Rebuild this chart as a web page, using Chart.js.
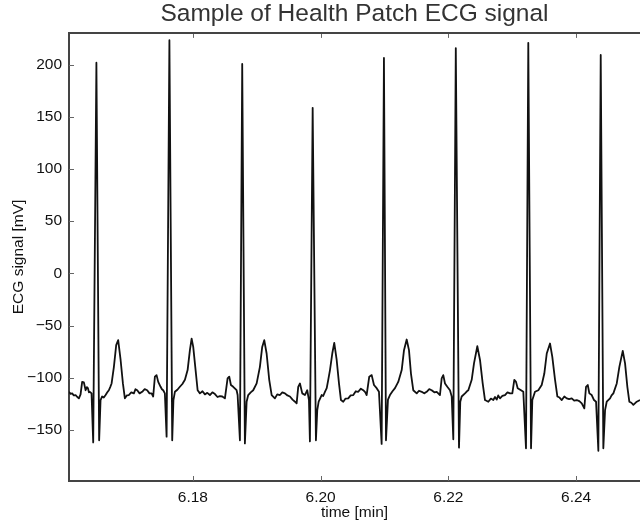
<!DOCTYPE html>
<html>
<head>
<meta charset="utf-8">
<title>Health Patch ECG</title>
<script src="https://cdn.jsdelivr.net/npm/chart.js@4.4.1/dist/chart.umd.min.js"></script>
<style>
  body { margin: 0; background: #fff; }
  #wrap { width: 640px; height: 528px; }
</style>
</head>
<body>
<div id="wrap"><canvas id="ecg-chart"></canvas></div>
<script>
// tick values for both axes
const xTicks = [6.18, 6.20, 6.22, 6.24];
const yTicks = [-150, -100, -50, 0, 50, 100, 150, 200];

// time [min] (one row per beat)
const timeMin = [
  6.16058, 6.16085, 6.16110, 6.16135, 6.16163, 6.16190, 6.16215, 6.16241, 6.16266, 6.16293, 6.16320, 6.16340, 6.16356, 6.16372, 6.16387, 6.16413,
  6.16439, 6.16489, 6.16532, 6.16554, 6.16579, 6.16605, 6.16633, 6.16660, 6.16684, 6.16705, 6.16727, 6.16763, 6.16799, 6.16830, 6.16868, 6.16904, 6.16935, 6.16965, 6.16998, 6.17035, 6.17076, 6.17100, 6.17128, 6.17165, 6.17206, 6.17245, 6.17284, 6.17320, 6.17353, 6.17378, 6.17405, 6.17431, 6.17457, 6.17494, 6.17515, 6.17535, 6.17561,
  6.17588, 6.17632, 6.17676, 6.17695, 6.17718, 6.17757, 6.17796, 6.17835, 6.17875, 6.17917, 6.17953, 6.17980, 6.18005, 6.18042, 6.18074, 6.18110, 6.18150, 6.18188, 6.18225, 6.18266, 6.18305, 6.18345, 6.18385, 6.18423, 6.18460, 6.18501, 6.18543, 6.18569, 6.18595, 6.18631, 6.18660, 6.18684, 6.18700,
  6.18736, 6.18772, 6.18814, 6.18841, 6.18866, 6.18905, 6.18944, 6.18998, 6.19049, 6.19085, 6.19117, 6.19154, 6.19195, 6.19233, 6.19284, 6.19320, 6.19363, 6.19400, 6.19441, 6.19480, 6.19519, 6.19560, 6.19598, 6.19624, 6.19649, 6.19676, 6.19712, 6.19754, 6.19790, 6.19817,
  6.19832, 6.19875, 6.19926, 6.19947, 6.19969, 6.20016, 6.20040, 6.20067, 6.20095, 6.20119, 6.20146, 6.20182, 6.20213, 6.20251, 6.20287, 6.20318, 6.20354, 6.20390, 6.20432, 6.20470, 6.20511, 6.20550, 6.20589, 6.20630, 6.20667, 6.20700, 6.20720, 6.20761, 6.20799, 6.20835, 6.20877, 6.20913,
  6.20955, 6.20991, 6.21023, 6.21054, 6.21085, 6.21125, 6.21164, 6.21215, 6.21269, 6.21305, 6.21347, 6.21383, 6.21414, 6.21450, 6.21504, 6.21540, 6.21582, 6.21620, 6.21660, 6.21700, 6.21738, 6.21780, 6.21817, 6.21868, 6.21895, 6.21920, 6.21947, 6.21983, 6.22025, 6.22052,
  6.22077, 6.22116, 6.22166, 6.22186, 6.22208, 6.22260, 6.22290, 6.22312, 6.22365, 6.22401, 6.22453, 6.22495, 6.22537, 6.22573, 6.22625, 6.22665, 6.22703, 6.22730, 6.22756, 6.22780, 6.22808, 6.22845, 6.22886, 6.22925, 6.22965, 6.23001, 6.23032, 6.23059, 6.23085, 6.23137, 6.23173,
  6.23215, 6.23251, 6.23294, 6.23314, 6.23356, 6.23408, 6.23461, 6.23502, 6.23540, 6.23591, 6.23627, 6.23670, 6.23706, 6.23740, 6.23775, 6.23815, 6.23853, 6.23890, 6.23931, 6.23970, 6.24009, 6.24050, 6.24088, 6.24128, 6.24155, 6.24182, 6.24207, 6.24244, 6.24280, 6.24312,
  6.24348, 6.24385, 6.24426, 6.24453, 6.24479, 6.24531, 6.24555, 6.24583, 6.24636, 6.24677, 6.24730, 6.24766, 6.24802, 6.24833, 6.24865, 6.24896, 6.24949, 6.25001
];

// ECG signal [mV] at those times
const ecgMv = [
  -113.5, -115.5, -115, -117, -116.6, -118.5, -119.8, -116, -104, -104.5, -112, -109, -110, -114, -113.5, -115,
  -162, 202, -160, -121.4, -118, -119, -116.6, -114, -112, -109, -105.5, -89.6, -68.8, -64, -83, -105.5, -119.8, -117, -116.6, -114, -115, -111, -112, -115, -113.5, -111, -112, -115, -115, -118, -99, -97.5, -104, -108.7, -111, -112, -115,
  -156.5, 223.5, -160, -121.4, -113.5, -111.5, -108.7, -106, -102, -92.7, -73.6, -62.5, -70.5, -92.7, -112, -115, -113, -116, -114.5, -116.6, -114, -115.7, -118.5, -117.6, -118, -119.8, -100.7, -99, -107, -108.7, -110.5, -112, -116.6,
  -160, 200.8, -163, -123, -116.6, -114, -112, -105.5, -89.6, -70.5, -64, -76.8, -102, -116.6, -119.8, -116, -116.6, -114, -115, -117, -118, -121, -123, -124.6, -108.7, -105.5, -115, -116.6, -112, -121.4,
  -161, 158.7, -160, -131, -123, -116.6, -117.5, -113.5, -110, -102, -92.7, -76.8, -66.6, -83, -105.5, -121.4, -123, -120, -119.8, -117, -116.6, -113, -113.5, -110.5, -112, -114, -116.6, -99, -97.5, -107, -110, -113.5,
  -163.5, 206.5, -160, -121, -116.6, -113, -110, -104, -92.7, -73.6, -63.4, -73.6, -96, -112, -115, -112.5, -113.5, -115, -113.5, -111, -112, -114, -113.5, -116.6, -100.7, -97.5, -105.5, -108.7, -112, -118,
  -159, 216, -167, -123, -118, -115, -113, -112, -102, -86.3, -69.8, -83, -105.5, -121.4, -123, -120, -121.4, -118.5, -121, -117, -119.8, -117.5, -116.6, -114, -115, -115, -102, -104, -110, -112, -113.5,
  -167.6, 221, -167.6, -121.4, -113.5, -112, -107, -96, -76.8, -67.2, -80, -102, -118, -119, -121.4, -118, -119.8, -120.5, -119.8, -122, -121.4, -122.5, -124.6, -129.4, -108.7, -107, -115, -116.6, -121.4, -123,
  -170, 209.4, -167.6, -131, -123, -119.8, -117, -115, -105.5, -89.6, -74.3, -86.3, -108.7, -123, -124, -126, -123, -121.4
];

const points = timeMin.map((t, i) => ({ x: t, y: ecgMv[i] }));

const axisColor = '#444';
const labelFont = { family: 'Liberation Sans, Arial, sans-serif', size: 15.5 };

// small tick marks pointing into the plot, plus the top frame line
const innerTicks = {
  id: 'innerTicks',
  afterDraw(chart) {
    const { ctx, chartArea: a, scales: { x, y } } = chart;
    ctx.save();
    ctx.strokeStyle = '#666';
    ctx.lineWidth = 1;
    ctx.beginPath();
    x.ticks.forEach(t => {
      const px = Math.round(x.getPixelForValue(t.value)) + 0.5;
      ctx.moveTo(px, a.bottom);
      ctx.lineTo(px, a.bottom - 5);
      ctx.moveTo(px, a.top);
      ctx.lineTo(px, a.top + 5);
    });
    y.ticks.forEach(t => {
      const py = Math.round(y.getPixelForValue(t.value)) + 0.5;
      ctx.moveTo(a.left, py);
      ctx.lineTo(a.left + 5, py);
    });
    ctx.stroke();
    ctx.strokeStyle = axisColor;
    ctx.lineWidth = 2;
    ctx.beginPath();
    ctx.moveTo(a.left, a.top);
    ctx.lineTo(a.right, a.top);
    ctx.stroke();
    ctx.restore();
  }
};

const ctx1 = document.getElementById('ecg-chart');

new Chart(ctx1, {
  type: 'line',
  data: {
    datasets: [{
      label: 'ECG',
      data: points,
      borderColor: '#111',
      borderWidth: 1.8,
      borderJoinStyle: 'round',
      pointRadius: 0,
      tension: 0,
      fill: false
    }]
  },
  options: {
    responsive: true,
    maintainAspectRatio: false,
    animation: false,
    layout: { padding: 0 },
    scales: {
      x: {
        type: 'linear',
        min: 6.1606,
        max: 6.2500,
        afterBuildTicks: scale => { scale.ticks = xTicks.map(v => ({ value: v })); },
        afterFit: scale => { scale.height = 47; },
        ticks: {
          color: '#111',
          font: labelFont,
          padding: 7,
          maxRotation: 0,
          callback: v => v.toFixed(2)
        },
        grid: { drawOnChartArea: false, drawTicks: false },
        border: { color: axisColor, width: 2 },
        title: {
          display: true,
          text: 'time [min]',
          color: '#111',
          font: labelFont,
          padding: { top: 0, bottom: 6 }
        }
      },
      y: {
        min: -199,
        max: 230.5,
        afterBuildTicks: scale => { scale.ticks = yTicks.map(v => ({ value: v })); },
        afterFit: scale => { scale.width = 69; },
        ticks: {
          color: '#111',
          font: labelFont,
          padding: 7,
          callback: v => (v < 0 ? '\u2212' + Math.abs(v) : String(v))
        },
        grid: { drawOnChartArea: false, drawTicks: false },
        border: { color: axisColor, width: 2 },
        title: {
          display: true,
          text: 'ECG signal [mV]',
          color: '#111',
          font: labelFont,
          padding: { top: 9, bottom: 0 }
        }
      }
    },
    plugins: {
      legend: { display: false },
      tooltip: { enabled: false },
      title: {
        display: true,
        fullSize: false,
        text: 'Sample of Health Patch ECG signal',
        color: '#333',
        font: { family: 'Liberation Sans, Arial, sans-serif', size: 24.5, weight: 'normal' },
        padding: { top: 0, bottom: 3.5 }
      }
    }
  },
  plugins: [innerTicks]
});
</script>
</body>
</html>
